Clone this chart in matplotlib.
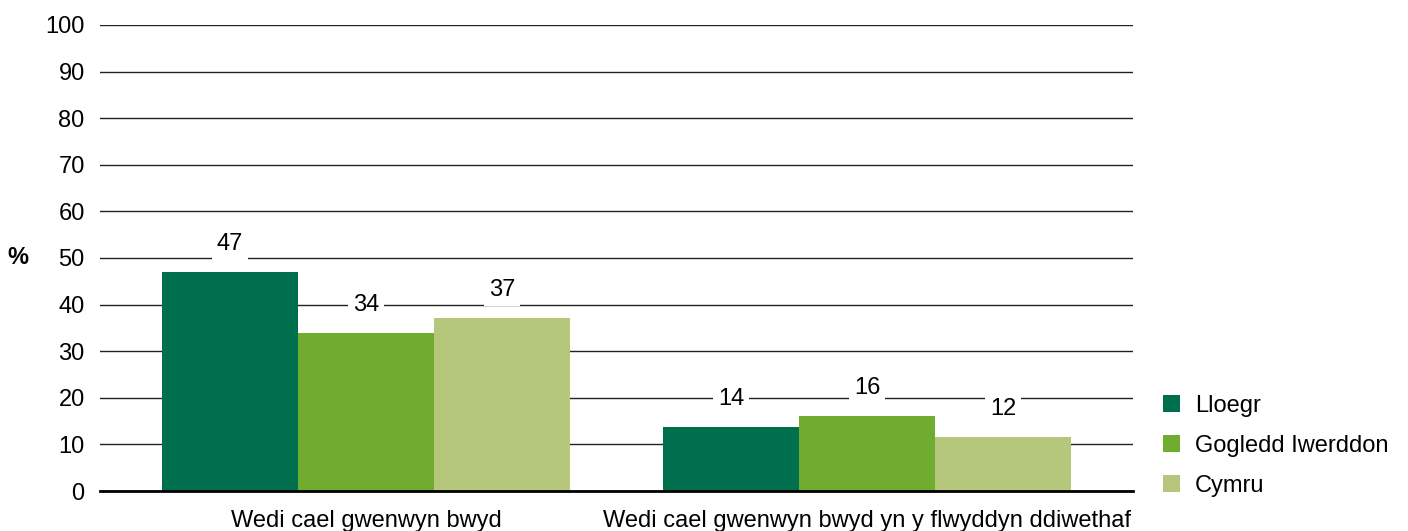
import matplotlib
matplotlib.use("Agg")
import matplotlib.pyplot as plt
import numpy as np

plt.rcParams['font.family'] = ['Liberation Sans', 'DejaVu Sans']

categories = ["Wedi cael gwenwyn bwyd", "Wedi cael gwenwyn bwyd yn y flwyddyn ddiwethaf"]
series_names = ["Lloegr", "Gogledd Iwerddon", "Cymru"]
lloegr = [47.1, 13.8]
gogledd_iwerddon = [34.0, 16.1]
cymru = [37.2, 11.5]
labels = [[47, 14], [34, 16], [37, 12]]
colors = ["#006F4E", "#6FAC2F", "#B5C77A"]

FS = 17

fig = plt.figure(figsize=(14.08, 5.31), dpi=100)
ax = fig.add_axes([100 / 1408, (531 - 491) / 531, 1033 / 1408, 466 / 531])

x = np.arange(len(categories))
w = 0.2715
for i, (vals, name) in enumerate(zip([lloegr, gogledd_iwerddon, cymru], series_names)):
    pos = x + (i - 1) * w
    ax.bar(pos, vals, width=w, color=colors[i], label=name, zorder=2)
    for p, v, lab in zip(pos, vals, labels[i]):
        ax.annotate(str(lab), (p, v), xytext=(0, 28), textcoords="offset pixels",
                    ha="center", va="center", fontsize=FS, zorder=4,
                    bbox=dict(boxstyle="square,pad=0.22", fc="white", ec="none"))

ax.set_xlim(-0.531, 1.531)
ax.set_ylim(0, 100)
ax.set_yticks(range(0, 101, 10))
ax.yaxis.grid(True, color="#222222", linewidth=1.0, zorder=0)
ax.set_axisbelow(True)
for s in ["top", "right", "left"]:
    ax.spines[s].set_visible(False)
ax.spines["bottom"].set_linewidth(2)
ax.spines["bottom"].set_color("black")
ax.spines["bottom"].set_zorder(3)
ax.tick_params(axis="y", length=0, pad=11, labelsize=FS)
ax.tick_params(axis="x", length=0, pad=14, labelsize=FS)
ax.set_xticks(x)
ax.set_xticklabels(categories)

fig.text(18 / 1408, 1 - 258 / 531, "%", fontsize=FS, fontweight="bold", ha="center", va="center")

ax.legend(loc="upper left", bbox_to_anchor=(1163 / 1408, 1 - 395 / 531), bbox_transform=fig.transFigure,
          frameon=False, fontsize=FS, handlelength=0.72, handleheight=0.72, handletextpad=0.64,
          labelspacing=0.76, borderaxespad=0, borderpad=0)

fig.savefig("out.png", dpi=100)
